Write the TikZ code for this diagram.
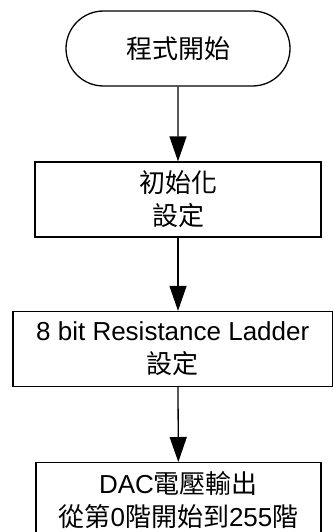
\documentclass[tikz,border=0pt]{standalone}
\usepackage{fontspec}
\usepackage{tikz}
\usetikzlibrary{shapes.misc,arrows.meta}
\setmainfont{Liberation Sans}
\newfontfamily\cjk{Noto Sans CJK TC}
\definecolor{flowline}{RGB}{0,0,0}

\begin{document}
\begin{tikzpicture}[x=1pt,y=-1pt,
    every node/.style={font=\fontsize{26}{33}\selectfont,align=center,inner sep=0pt},
    flowbox/.style={draw=flowline,line width=1.3pt,minimum height=75pt},
    flowarrow/.style={draw=flowline,line width=1.3pt,-{Triangle[length=25pt,width=17pt]}}]
                \useasboundingbox (0,0) rectangle (333,532);
                % Flow boxes
                \node[flowbox,rounded rectangle,minimum width=224pt] (start) at (178,48.5) {{\cjk 程式開始}};
                \node[flowbox,minimum width=286pt] (init) at (178,199.5) {{\cjk 初始化}\\{\cjk 設定}};
                \node[flowbox,minimum width=319.5pt] (ladder) at (172.75,349) {8 bit Resistance Ladder\\{\cjk 設定}};
                \node[flowbox,minimum width=285pt,minimum height=74pt,anchor=north] (dac) at (178.5,462)
                    {DAC{\cjk 電壓輸出}\\{\cjk 從第}0{\cjk 階開始到}255{\cjk 階}};
                \draw[flowarrow] (start) -- (init);
                \draw[flowarrow] (init) -- (init.south |- ladder.north);
                \draw[flowarrow] (init.south |- ladder.south) -- (dac);
            \end{tikzpicture}
\end{document}
